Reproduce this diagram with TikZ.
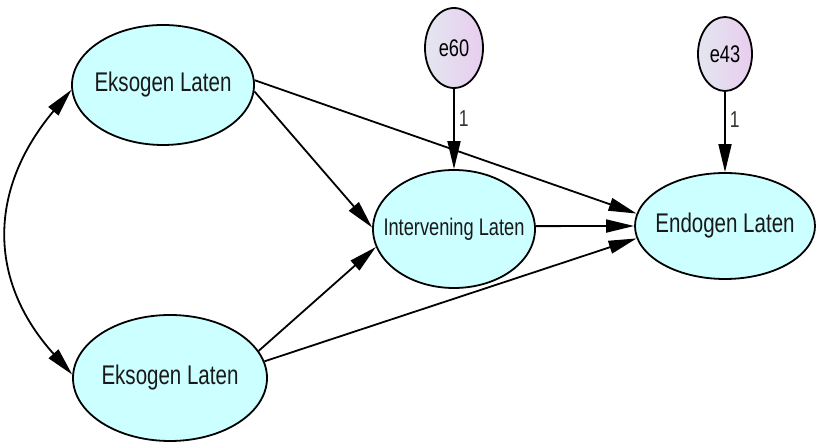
\documentclass[tikz,border=0pt]{standalone}
\usepackage{fontspec}
\setmainfont{Liberation Sans}[FakeStretch=0.76]
\usetikzlibrary{arrows.meta,shapes.geometric}
\definecolor{latfill}{HTML}{CCFFFF}
\definecolor{errA}{HTML}{E4E6F0}
\definecolor{errB}{HTML}{E8CDEF}
\newcommand{\zwtext}[1]{\makebox[0pt]{\raisebox{-2pt}{#1}}}
\begin{document}
\begin{tikzpicture}[x=1pt,y=1pt,
  latent/.style={ellipse, draw=black, line width=1.8pt, fill=latfill, inner sep=0pt, text=black!90},
  errnode/.style={ellipse, draw=black, line width=1.8pt, left color=errA, right color=errB, inner sep=0pt, font=\fontsize{24}{28}\selectfont},
  path/.style={line width=1.8pt, -{Triangle[length=28pt,width=13pt]}},
  dpath/.style={line width=1.8pt, {Triangle[length=28pt,width=13pt]}-{Triangle[length=28pt,width=13pt]}},
  wlabel/.style={inner sep=0pt, font=\fontsize{23}{26}\selectfont, text=black!85!yellow!60!black}
]
\useasboundingbox (0,0) rectangle (816,443);
\node[latent, minimum width=182pt, minimum height=120pt, font=\fontsize{27}{30}\selectfont] (topE) at (163,358) {\zwtext{Eksogen Laten}};
\node[latent, minimum width=194pt, minimum height=126pt, font=\fontsize{27}{30}\selectfont] (botE) at (170,65) {\zwtext{Eksogen Laten}};
\node[latent, minimum width=162pt, minimum height=118pt, font=\fontsize{24}{28}\selectfont] (int) at (454,214) {\zwtext{Intervening Laten}};
\node[latent, minimum width=180pt, minimum height=106pt, font=\fontsize{27}{30}\selectfont] (end) at (725,217) {\zwtext{Endogen Laten}};
\node[errnode, minimum width=58pt, minimum height=80pt] (e60) at (454,395) {\zwtext{e60}};
\node[errnode, minimum width=54pt, minimum height=74pt] (e43) at (725,389) {\zwtext{e43}};

\draw[path] (topE.3) -- (end.172);
\draw[path] (topE.-4) -- (int.179);
\draw[path] (botE.17) -- (int.193);
\draw[path] (botE.10) -- (end.188);
\draw[path] (int.2) -- (end.west);
\draw[path] (e60.south) -- node[wlabel, pos=0.37, right=4pt] (l1) {1} (int.north);
\draw[path] (e43.south) -- node[wlabel, pos=0.35, right=4pt] (l2) {1} (end.north);
\draw[dpath] (topE.183) to[out=230, in=132, looseness=1.15] (botE.178);
\end{tikzpicture}
\end{document}
